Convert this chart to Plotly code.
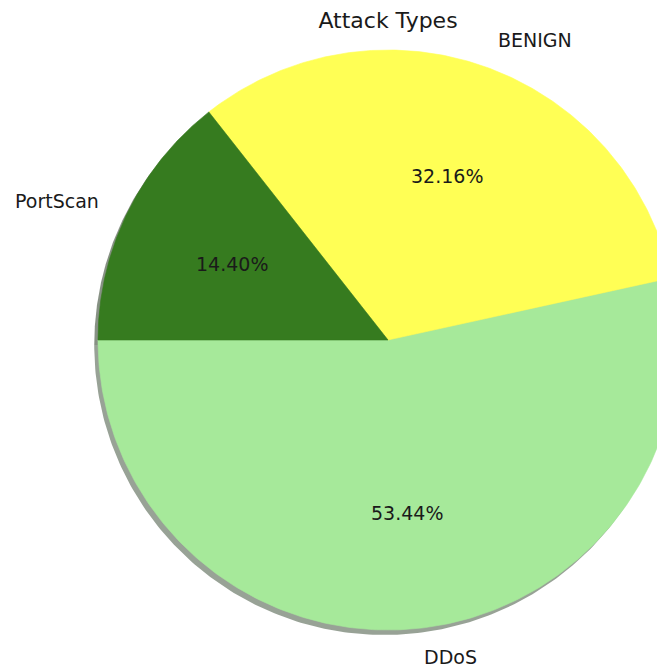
import numpy as np
import plotly.graph_objects as go

# ---- data ----
labels = ["DDoS", "BENIGN", "PortScan"]
shares = [53.44, 32.16, 14.40]
colors = ["#a6e99a", "#ffff55", "#367b1f"]
title_text = "Attack Types"

START_ANGLE = 180.0       # degrees, counter-clockwise like matplotlib
LABEL_DIST = 1.1
PCT_DIST = 0.6
SHADOW_OFF = (-0.013, -0.017)

PAGE_OFF = 8              # default body margin of the html page
W, H = 665 - PAGE_OFF, 668 - PAGE_OFF
CX, CY, R_PX = 388.0 - PAGE_OFF, 340.0 - PAGE_OFF, 290.0  # pie centre/radius in figure px
TITLE_Y = 20.0 - PAGE_OFF


def hex_to_rgb(h):
    h = h.lstrip("#")
    return tuple(int(h[i:i + 2], 16) for i in (0, 2, 4))


def wedge(t1, t2, dx=0.0, dy=0.0, n=240):
    th = np.radians(np.linspace(t1, t2, n))
    xs = np.concatenate([[dx], dx + np.cos(th), [dx]])
    ys = np.concatenate([[dy], dy + np.sin(th), [dy]])
    return xs, ys


total = float(sum(shares))
angles = []
a = START_ANGLE
for v in shares:
    span = 360.0 * v / total
    angles.append((a, a + span))
    a += span

fig = go.Figure()

# shadows
for (t1, t2), c in zip(angles, colors):
    r, g, b = hex_to_rgb(c)
    sc = f"rgba({int(r*0.3)},{int(g*0.3)},{int(b*0.3)},0.5)"
    xs, ys = wedge(t1, t2, *SHADOW_OFF)
    fig.add_trace(go.Scatter(x=xs, y=ys, fill="toself", fillcolor=sc, mode="lines",
                             line=dict(width=0), hoverinfo="skip", showlegend=False))

# wedges
for (t1, t2), c, lab in zip(angles, colors, labels):
    xs, ys = wedge(t1, t2)
    fig.add_trace(go.Scatter(x=xs, y=ys, fill="toself", fillcolor=c, mode="lines",
                             line=dict(width=0.6, color=c), name=lab,
                             hoverinfo="name", showlegend=False))

# labels and percentages
for (t1, t2), lab, v in zip(angles, labels, shares):
    mid = np.radians((t1 + t2) / 2)
    lx, ly = LABEL_DIST * np.cos(mid), LABEL_DIST * np.sin(mid)
    fig.add_annotation(x=lx, y=ly, text=lab, showarrow=False,
                       xanchor="left" if lx > 0 else "right", yanchor="middle",
                       font=dict(family="DejaVu Sans", size=19, color="#1a1a1a"))
    px, py = PCT_DIST * np.cos(mid), PCT_DIST * np.sin(mid)
    fig.add_annotation(x=px, y=py, text=f"{v / total * 100:.2f}%", showarrow=False,
                       xanchor="center", yanchor="middle",
                       font=dict(family="DejaVu Sans", size=19, color="#1a1a1a"))

x0 = (0 - CX) / R_PX
x1 = (W - CX) / R_PX
y0 = (CY - H) / R_PX
y1 = (CY - 0) / R_PX

fig.update_layout(
    width=W, height=H,
    margin=dict(l=0, r=0, t=0, b=0),
    paper_bgcolor="white", plot_bgcolor="white",
    title=dict(text=title_text, x=CX / W, xanchor="center", y=1 - TITLE_Y / H, yanchor="middle",
               font=dict(family="DejaVu Sans", size=22, color="#1a1a1a")),
    xaxis=dict(range=[x0, x1], visible=False, fixedrange=True),
    yaxis=dict(range=[y0, y1], visible=False, fixedrange=True),
    showlegend=False,
)

fig.write_html("out.html")
